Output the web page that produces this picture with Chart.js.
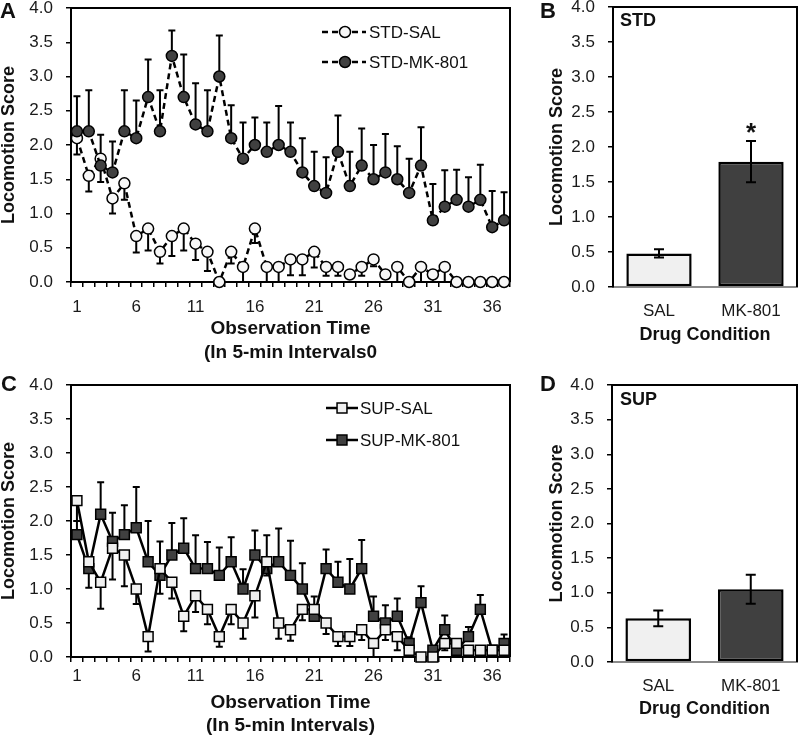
<!DOCTYPE html>
<html><head><meta charset="utf-8">
<script src="https://cdn.jsdelivr.net/npm/chart.js@4/dist/chart.umd.min.js"></script>
<style>
html,body{margin:0;padding:0;background:#fff}
body{width:800px;height:735px;position:relative;overflow:hidden}
.p{position:absolute}
canvas{display:block}
</style></head><body>
<div class="p" style="left:0;top:0"><canvas id="cA" width="530" height="370"></canvas></div>
<div class="p" style="left:540px;top:0"><canvas id="cB" width="260" height="370"></canvas></div>
<div class="p" style="left:0;top:370px"><canvas id="cC" width="530" height="370"></canvas></div>
<div class="p" style="left:540px;top:370px"><canvas id="cD" width="260" height="370"></canvas></div>
<script>
// ---------- DATA ----------
const intervals = [1,2,3,4,5,6,7,8,9,10,11,12,13,14,15,16,17,18,19,20,21,22,23,24,25,26,27,28,29,30,31,32,33,34,35,36,37];
const shownIntervals = [1,6,11,16,21,26,31,36];
const stdSeriesNames = ['STD-SAL','STD-MK-801'];
const supSeriesNames = ['SUP-SAL','SUP-MK-801'];

const stdSal    = [2.1,1.55,1.8,1.22,1.44,0.67,0.78,0.44,0.67,0.78,0.56,0.44,0,0.44,0.22,0.78,0.22,0.22,0.33,0.33,0.44,0.22,0.22,0.11,0.22,0.33,0.11,0.22,0,0.22,0.11,0.22,0,0,0,0,0];
const stdSalSem = [0.24,0.23,0.34,0.22,0.24,0.24,0.32,0.17,0.29,0.32,0.24,0.28,0,0.17,0.22,0.21,0.22,0.22,0.23,0.23,0.23,0.13,0.13,0,0.13,0.1,0,0.22,0,0.22,0.11,0.22,0,0,0,0,0];
const stdMk     = [2.2,2.2,1.7,1.6,2.2,2.1,2.7,2.2,3.3,2.7,2.3,2.2,3.0,2.1,1.8,2.0,1.9,2.0,1.9,1.6,1.4,1.3,1.9,1.4,1.7,1.5,1.6,1.5,1.3,1.7,0.9,1.1,1.2,1.1,1.2,0.8,0.9];
const stdMkSem  = [0.51,0.6,0.45,0.45,0.6,0.55,0.55,0.6,0.37,0.62,0.6,0.6,0.6,0.48,0.53,0.4,0.43,0.57,0.43,0.5,0.5,0.52,0.53,0.5,0.54,0.5,0.56,0.48,0.5,0.56,0.53,0.53,0.44,0.43,0.51,0.53,0.41];

const supSal    = [2.3,1.4,1.1,1.6,1.5,1.0,0.3,1.3,1.1,0.6,0.9,0.7,0.3,0.7,0.5,0.9,1.4,0.5,0.4,0.7,0.7,0.5,0.3,0.3,0.4,0.2,0.4,0.3,0.1,0,0,0.2,0.2,0.1,0.1,0.1,0.1];
const supSalSem = [0.3,0.38,0.39,0.46,0.46,0.22,0.22,0.37,0.24,0.22,0.24,0.22,0.15,0.22,0.23,0.32,0.2,0.23,0.16,0.16,0.16,0.16,0.14,0.14,0.15,0.2,0.15,0.2,0.1,0,0,0.1,0,0,0,0,0];
const supMk     = [1.8,1.3,2.1,1.7,1.8,1.9,1.4,1.2,1.5,1.6,1.3,1.3,1.2,1.4,1.0,1.5,1.3,1.4,1.2,1.0,0.6,1.3,1.1,1.0,1.3,0.6,0.5,0.6,0.2,0.8,0.1,0.4,0.1,0.3,0.7,0.1,0.2];
const supMkSem  = [0.2,0.1,0.47,0.42,0.43,0.6,0.6,0.5,0.47,0.44,0.49,0.39,0.41,0.36,0.29,0.36,0.49,0.49,0.51,0.38,0.29,0.28,0.3,0.44,0.42,0.29,0.26,0.26,0.09,0.24,0.05,0.21,0,0.14,0.21,0,0.13];

const drugConditions = ['SAL','MK-801'];
const stdBarMeans = [0.48,1.79];
const stdBarSems  = [0.06,0.295];
const stdBarMarks = ['','*'];
const supBarMeans = [0.63,1.05];
const supBarSems  = [0.115,0.21];
const supBarMarks = ['',''];

// ---------- STYLE ----------
const FONT = "'Liberation Sans', Arial, sans-serif";
Chart.defaults.font.family = FONT;
Chart.defaults.color = '#1a1a1a';
const DARK = '#404040', LIGHT = '#f0f0f0', OPEN = '#f7f7f7';

function drawErrors(chart){
  const ctx = chart.ctx, ys = chart.scales.y;
  chart.data.datasets.forEach((ds, di) => {
    if (!ds.errors) return;
    const meta = chart.getDatasetMeta(di);
    ctx.save();
    ctx.setLineDash([]);
    ctx.strokeStyle = '#000'; ctx.lineWidth = 2;
    ds.errors.forEach((e, i) => {
      if (!e) return;
      const v = ds.data[i], x = meta.data[i].x;
      const hi = ds.errDir === 'down' ? v : v + e;
      const lo = ds.errDir === 'up' ? v : v - e;
      const yh = ys.getPixelForValue(hi), yl = ys.getPixelForValue(lo);
      const cw = ds.capW || 3.5;
      ctx.beginPath();
      ctx.moveTo(x, yh); ctx.lineTo(x, yl);
      if (ds.errDir !== 'down') { ctx.moveTo(x - cw, yh); ctx.lineTo(x + cw, yh); }
      if (ds.errDir !== 'up')   { ctx.moveTo(x - cw, yl); ctx.lineTo(x + cw, yl); }
      ctx.stroke();
    });
    ctx.restore();
  });
}
function drawBox(chart, o){
  const ctx = chart.ctx, a = chart.chartArea;
  ctx.save();
  ctx.setLineDash([]);
  ctx.strokeStyle = '#000'; ctx.lineWidth = 2;
  ctx.beginPath();
  ctx.moveTo(a.left - 1, a.top);
  ctx.lineTo(a.right, a.top);
  ctx.lineTo(a.right, a.bottom);
  ctx.stroke();
  ctx.restore();
}
function marker(ctx, style, x, y, r, fill){
  ctx.beginPath();
  if (style === 'circle') ctx.arc(x, y, r, 0, Math.PI * 2);
  else { const s = r * Math.SQRT1_2; ctx.rect(x - s, y - s, 2 * s, 2 * s); }
  ctx.fillStyle = fill; ctx.fill();
  ctx.lineWidth = 1.5; ctx.strokeStyle = '#000'; ctx.stroke();
}
const decor = {
  id: 'decor',
  beforeDatasetsDraw(chart, args, o){
    drawBox(chart, o);
    if (o.errBehind) drawErrors(chart);
  },
  afterDatasetsDraw(chart, args, o){
    const ctx = chart.ctx;
    if (!o.errBehind) drawErrors(chart);
    drawBox(chart, o);
    ctx.save();
    if (o.letter) {
      ctx.font = 'bold 22px ' + FONT; ctx.fillStyle = '#111';
      ctx.textBaseline = 'alphabetic'; ctx.textAlign = 'left';
      ctx.fillText(o.letter.text, o.letter.x, o.letter.y);
    }
    if (o.tag) {
      ctx.font = 'bold 18px ' + FONT; ctx.fillStyle = '#111';
      ctx.textBaseline = 'middle'; ctx.textAlign = 'left';
      ctx.fillText(o.tag.text, o.tag.x, o.tag.y);
    }
    if (o.marks) {
      const meta = chart.getDatasetMeta(0), ds = chart.data.datasets[0];
      ctx.font = 'bold 26px ' + FONT; ctx.fillStyle = '#111';
      ctx.textAlign = 'center'; ctx.textBaseline = 'alphabetic';
      o.marks.forEach((m, i) => {
        if (!m) return;
        const yTop = chart.scales.y.getPixelForValue(ds.data[i] + ds.errors[i]);
        ctx.fillText(m, meta.data[i].x, yTop);
      });
    }
    if (o.legend) {
      const L = o.legend;
      chart.data.datasets.forEach((ds, i) => {
        const y = L.ys[i];
        ctx.beginPath();
        ctx.setLineDash(L.dash || []);
        ctx.lineWidth = 2.5; ctx.strokeStyle = '#000';
        ctx.moveTo(L.x1, y); ctx.lineTo(L.x2, y); ctx.stroke();
        ctx.setLineDash([]);
        marker(ctx, ds.pointStyle, L.xm, y, ds.pointRadius, ds.pointBackgroundColor);
        ctx.font = '17px ' + FONT; ctx.fillStyle = '#111';
        ctx.textAlign = 'left'; ctx.textBaseline = 'middle';
        ctx.fillText(ds.label, L.xt, y + 1);
      });
    }
    ctx.restore();
  }
};

function yScale(width, titlePad){
  return {
    min: 0, max: 4,
    ticks: { stepSize: 0.5, callback: v => Number(v).toFixed(1), font: { size: 17 }, color: '#1a1a1a', padding: 13 },
    grid: { drawOnChartArea: false, drawTicks: true, tickLength: 5, color: '#000', lineWidth: 1.5 },
    border: { display: true, color: '#000', width: 2 },
    title: { display: true, text: 'Locomotion Score', font: { size: 18, weight: 'bold', lineHeight: 1 }, color: '#111', padding: { top: titlePad, bottom: 0 } },
    afterFit(s){ s.width = width; s.paddingTop = 0; s.paddingBottom = 0; }
  };
}
function xLineScale(titleLines, lh, height, pad){
  return {
    type: 'category', offset: true,
    ticks: { autoSkip: false, maxRotation: 0, minRotation: 0, font: { size: 17 }, color: '#1a1a1a', padding: pad,
      callback(v, i){ return shownIntervals.includes(intervals[i]) ? String(intervals[i]) : ''; } },
    grid: { offset: true, drawOnChartArea: false, drawTicks: true, tickLength: 5, color: '#000', lineWidth: 1.5 },
    border: { display: true, color: '#000', width: 2 },
    title: { display: true, text: titleLines, font: { size: 19, weight: 'bold', lineHeight: lh }, color: '#111', padding: { top: 0, bottom: 0 } },
    afterFit(s){ s.height = height; s.paddingLeft = 0; s.paddingRight = 0; }
  };
}
function lineDs(label, data, errs, dir, style, fill, r, dash, order){
  return { label, data, errors: errs, errDir: dir, capW: 3.5,
    borderColor: '#000', borderWidth: 2.5, borderDash: dash,
    pointStyle: style, pointRadius: r, pointHoverRadius: r, pointBackgroundColor: fill,
    pointBorderColor: '#000', pointBorderWidth: 1.5, tension: 0, clip: false, order, fill: false };
}
function barDs(means, sems){
  return { data: means, errors: sems, errDir: 'both', capW: 5,
    backgroundColor: [LIGHT, DARK], borderColor: '#000', borderWidth: 2.5, borderSkipped: false,
    barPercentage: 0.71, categoryPercentage: 1 };
}
function xBarScale(height){
  return {
    type: 'category', offset: true,
    ticks: { font: { size: 17 }, color: '#1a1a1a', padding: 14 },
    grid: { drawOnChartArea: false, drawTicks: false, display: true },
    border: { display: true, color: '#8a8a8a', width: 2 },
    title: { display: true, text: 'Drug Condition', font: { size: 18, weight: 'bold', lineHeight: 1.2 }, color: '#111', padding: { top: 0, bottom: 0 } },
    afterFit(s){ s.height = height; s.paddingLeft = 0; s.paddingRight = 0; }
  };
}
const common = { responsive: false, animation: false, events: [],
  plugins: { legend: { display: false }, tooltip: { enabled: false } } };

// ---------- A ----------
new Chart(document.getElementById('cA'), {
  type: 'line',
  data: { labels: intervals, datasets: [
    lineDs(stdSeriesNames[0], stdSal, stdSalSem, 'down', 'circle', OPEN, 5.5, [6,4], 1),
    lineDs(stdSeriesNames[1], stdMk, stdMkSem, 'up', 'circle', DARK, 5.5, [6,4], 0)
  ]},
  options: { ...common,
    layout: { padding: { left: 0, top: 8, right: 20, bottom: 5 } },
    scales: { x: xLineScale(['Observation Time', '(In 5-min Intervals0'], '24px', 83, 10), y: yScale(71, 0) },
    plugins: { ...common.plugins, decor: { errBehind: true, letter: { text: 'A', x: 0, y: 18 },
      legend: { x1: 322, x2: 366, xm: 345, xt: 369, ys: [32, 62], dash: [6,4] } } }
  },
  plugins: [decor]
});
// ---------- C ----------
new Chart(document.getElementById('cC'), {
  type: 'line',
  data: { labels: intervals, datasets: [
    lineDs(supSeriesNames[0], supSal, supSalSem, 'down', 'rect', LIGHT, 7, [], 0),
    lineDs(supSeriesNames[1], supMk, supMkSem, 'up', 'rect', DARK, 7, [], 1)
  ]},
  options: { ...common,
    layout: { padding: { left: 0, top: 15, right: 20, bottom: 3 } },
    scales: { x: xLineScale(['Observation Time', '(In 5-min Intervals)'], '23px', 80, 4), y: yScale(71, 0) },
    plugins: { ...common.plugins, decor: { errBehind: true, letter: { text: 'C', x: 1, y: 21 },
      legend: { x1: 326, x2: 358, xm: 342, xt: 360, ys: [38, 70], dash: [] } } }
  },
  plugins: [decor]
});
// ---------- B ----------
new Chart(document.getElementById('cB'), {
  type: 'bar',
  data: { labels: drugConditions, datasets: [ barDs(stdBarMeans, stdBarSems) ] },
  options: { ...common,
    layout: { padding: { left: 0, top: 7, right: 3, bottom: 23.7 } },
    scales: { x: xBarScale(59.3), y: yScale(73, 8) },
    plugins: { ...common.plugins, decor: { errBehind: false, letter: { text: 'B', x: 0, y: 18 },
      tag: { text: 'STD', x: 80, y: 21 }, marks: stdBarMarks } }
  },
  plugins: [decor]
});
// ---------- D ----------
new Chart(document.getElementById('cD'), {
  type: 'bar',
  data: { labels: drugConditions, datasets: [ barDs(supBarMeans, supBarSems) ] },
  options: { ...common,
    layout: { padding: { left: 0, top: 15, right: 3, bottom: 20.2 } },
    scales: { x: xBarScale(57.8), y: yScale(72, 8) },
    plugins: { ...common.plugins, decor: { errBehind: false, letter: { text: 'D', x: 0, y: 21 },
      tag: { text: 'SUP', x: 80, y: 30 }, marks: supBarMarks } }
  },
  plugins: [decor]
});
</script>
</body></html>
